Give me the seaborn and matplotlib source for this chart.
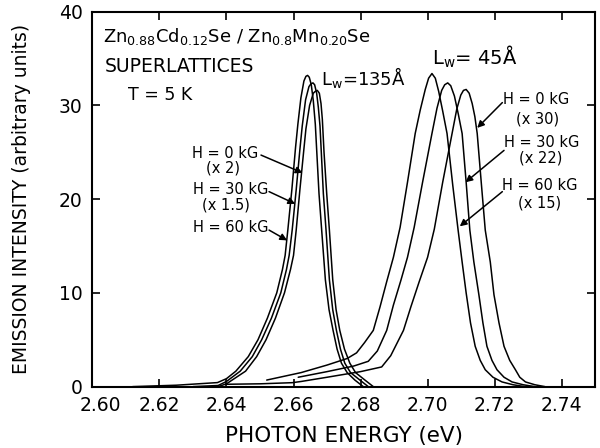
"""
Photoluminescence spectra of ZnCdSe / ZnMnSe superlattices
at T = 5 K for three magnetic fields and two well widths.
"""

import matplotlib.pyplot as plt
import matplotlib.transforms as mtransforms
import seaborn as sns

# Lw = 135 A, H = 60 kG
LW135_H60_ENERGY = [2.6120, 2.6250, 2.6373, 2.6400, 2.6428, 2.6465, 2.6494, 2.6522, 2.6550,
                    2.6567, 2.6575, 2.6583, 2.6595, 2.6606, 2.6613, 2.6622, 2.6631, 2.6637,
                    2.6642, 2.6647, 2.6653, 2.6659, 2.6665, 2.6676, 2.6684, 2.6695, 2.6706,
                    2.6718, 2.6730, 2.6743, 2.6760, 2.6783, 2.6808]
LW135_H60_INTENSITY = [0.0, 0.15, 0.43, 0.85, 1.65, 3.2, 5.0, 7.3, 10.0, 12.5, 14.0, 16.7,
                       21.0, 25.5, 28.0, 30.8, 32.6, 33.1, 33.2, 33.0, 32.2, 30.5, 28.0,
                       20.6, 16.7, 11.4, 8.2, 6.0, 4.0, 2.5, 1.5, 0.7, 0.0]

# Lw = 135 A, H = 30 kG (x1.5)
LW135_H30_ENERGY = [2.6300, 2.6375, 2.6400, 2.6441, 2.6477, 2.6505, 2.6534, 2.6562, 2.6579,
                    2.6587, 2.6596, 2.6608, 2.6619, 2.6626, 2.6636, 2.6646, 2.6652, 2.6658,
                    2.6663, 2.6669, 2.6674, 2.6679, 2.6689, 2.6697, 2.6707, 2.6717, 2.6728,
                    2.6740, 2.6753, 2.6770, 2.6798, 2.6823]
LW135_H30_INTENSITY = [0.0, 0.12, 0.55, 1.65, 3.2, 5.0, 7.3, 10.0, 12.5, 14.0, 16.7, 21.0,
                       25.3, 27.8, 30.6, 32.0, 32.3, 32.4, 32.2, 31.3, 29.8, 27.8, 20.6,
                       16.7, 11.4, 8.2, 6.0, 4.0, 2.5, 1.5, 0.7, 0.0]

# Lw = 135 A, H = 0 kG (x2)
LW135_H0_ENERGY = [2.6375, 2.6400, 2.6457, 2.6490, 2.6518, 2.6546, 2.6573, 2.6591, 2.6600,
                   2.6608, 2.6619, 2.6630, 2.6637, 2.6648, 2.6659, 2.6665, 2.6671, 2.6677,
                   2.6682, 2.6686, 2.6691, 2.6699, 2.6707, 2.6717, 2.6727, 2.6738, 2.6752,
                   2.6768, 2.6785, 2.6813, 2.6838]
LW135_H0_INTENSITY = [0.0, 0.3, 1.65, 3.2, 5.0, 7.3, 10.0, 12.5, 14.0, 16.7, 21.0, 25.0,
                      27.5, 30.0, 31.3, 31.5, 31.6, 31.3, 30.2, 28.5, 25.0, 20.6, 16.7,
                      11.4, 8.2, 6.0, 4.0, 2.5, 1.5, 0.7, 0.0]

# Lw = 45 A, H = 60 kG (x15)
LW45_H60_ENERGY = [2.6520, 2.6623, 2.6700, 2.6760, 2.6788, 2.6812, 2.6838, 2.6858, 2.6878,
                   2.6898, 2.6918, 2.6940, 2.6963, 2.6978, 2.6993, 2.7003, 2.7013, 2.7023,
                   2.7033, 2.7045, 2.7058, 2.7075, 2.7091, 2.7103, 2.7115, 2.7128, 2.7142,
                   2.7157, 2.7172, 2.7195, 2.7222, 2.7255, 2.7290]
LW45_H60_INTENSITY = [0.7, 1.5, 2.3, 3.0, 3.6, 4.7, 6.0, 8.5, 11.2, 13.8, 17.0, 21.8, 27.0,
                      29.5, 31.7, 32.9, 33.4, 32.9, 31.5, 29.4, 27.0, 21.5, 16.7, 13.3,
                      10.0, 6.8, 4.3, 2.8, 1.8, 1.0, 0.5, 0.2, 0.0]

# Lw = 45 A, H = 30 kG (x22)
LW45_H30_ENERGY = [2.6614, 2.6700, 2.6780, 2.6823, 2.6850, 2.6878, 2.6898, 2.6920, 2.6940,
                   2.6960, 2.6985, 2.7013, 2.7028, 2.7042, 2.7051, 2.7060, 2.7069, 2.7080,
                   2.7092, 2.7103, 2.7115, 2.7126, 2.7138, 2.7153, 2.7165, 2.7177, 2.7192,
                   2.7207, 2.7228, 2.7252, 2.7285, 2.7320]
LW45_H30_INTENSITY = [1.0, 1.6, 2.2, 2.7, 3.8, 6.0, 8.7, 11.3, 13.8, 17.0, 21.8, 27.0, 29.7,
                      31.6, 32.2, 32.4, 32.1, 31.0, 29.0, 27.0, 21.8, 16.7, 13.3, 9.8,
                      6.8, 4.3, 2.8, 1.8, 1.0, 0.5, 0.2, 0.0]

# Lw = 45 A, H = 0 kG (x30)
LW45_H0_ENERGY = [2.6398, 2.6500, 2.6596, 2.6623, 2.6700, 2.6800, 2.6863, 2.6890, 2.6928,
                  2.6950, 2.6975, 2.7000, 2.7020, 2.7045, 2.7073, 2.7087, 2.7099, 2.7107,
                  2.7115, 2.7124, 2.7133, 2.7141, 2.7148, 2.7160, 2.7172, 2.7187, 2.7198,
                  2.7213, 2.7228, 2.7245, 2.7262, 2.7275, 2.7292, 2.7320, 2.7350]
LW45_H0_INTENSITY = [0.25, 0.3, 0.42, 0.55, 1.0, 1.6, 2.1, 3.3, 6.0, 8.5, 11.2, 13.8, 16.8,
                     21.8, 27.0, 29.6, 31.1, 31.6, 31.7, 31.3, 30.2, 28.8, 27.0, 21.8,
                     16.7, 13.3, 9.8, 6.8, 4.3, 2.8, 1.8, 1.0, 0.5, 0.2, 0.0]

SPECTRA = [
    (LW135_H60_ENERGY, LW135_H60_INTENSITY),
    (LW135_H30_ENERGY, LW135_H30_INTENSITY),
    (LW135_H0_ENERGY, LW135_H0_INTENSITY),
    (LW45_H60_ENERGY, LW45_H60_INTENSITY),
    (LW45_H30_ENERGY, LW45_H30_INTENSITY),
    (LW45_H0_ENERGY, LW45_H0_INTENSITY),
]

X_TICKS = [2.60, 2.62, 2.64, 2.66, 2.68, 2.70, 2.72, 2.74]
Y_TICKS = [0, 10, 20, 30, 40]

# field labels: (text, x, y)
FIELD_LABELS = [
    ("H = 0 kG", 2.6395, 24.9), ("(x 2)", 2.6389, 23.3),
    ("H = 30 kG", 2.6413, 21.0), ("(x 1.5)", 2.6398, 19.4),
    ("H = 60 kG", 2.6413, 17.0),
    ("H = 0 kG", 2.7324, 30.6), ("(x 30)", 2.7327, 28.6),
    ("H = 30 kG", 2.7339, 26.0), ("(x 22)", 2.7336, 24.4),
    ("H = 60 kG", 2.7336, 21.5), ("(x 15)", 2.7333, 19.6),
]

# arrows: (start, tip)
FIELD_ARROWS = [
    ((2.6503, 24.7), (2.6627, 22.8)),
    ((2.6527, 20.8), (2.6605, 19.5)),
    ((2.6527, 16.7), (2.6581, 15.6)),
    ((2.7223, 30.3), (2.7148, 27.6)),
    ((2.7228, 25.2), (2.7113, 21.8)),
    ((2.7223, 20.8), (2.7096, 17.1)),
]


def create_spectra_plot() -> None:
    sns.set_theme(style="ticks")
    plt.rcParams["font.family"] = ["DejaVu Sans"]
    plt.rcParams["mathtext.fontset"] = "dejavusans"
    for key in ("text.color", "axes.labelcolor", "xtick.color", "ytick.color"):
        plt.rcParams[key] = "black"

    fig = plt.figure(figsize=(6, 4.48), dpi=100)
    ax = fig.add_axes([0.154, 0.137, 0.838, 0.837])

    for energy, intensity in SPECTRA:
        sns.lineplot(x=energy, y=intensity, sort=False, estimator=None,
                     color="black", linewidth=1.1, ax=ax)

    ax.set_xlim(2.60, 2.75)
    ax.set_ylim(0, 40)
    ax.set_xticks(X_TICKS)
    ax.set_xticklabels([f"{t:.2f}" for t in X_TICKS])
    ax.set_yticks(Y_TICKS)
    ax.tick_params(direction="in", length=6, width=1.2, labelsize=13.5,
                   top=True, right=True, colors="black")
    ax.tick_params(axis="x", pad=7)
    ax.tick_params(axis="y", pad=7)
    for spine in ax.spines.values():
        spine.set_linewidth(1.5)
        spine.set_color("black")

    # first energy label sits a little to the right of its tick
    first_label = ax.get_xticklabels()[0]
    first_label.set_transform(first_label.get_transform()
                              + mtransforms.ScaledTranslation(8 / 100, 0, fig.dpi_scale_trans))

    ax.set_xlabel("PHOTON ENERGY (eV)", fontsize=15.5, labelpad=8)
    ax.set_ylabel("EMISSION INTENSITY (arbitrary units)", fontsize=13.5, labelpad=20)

    ax.text(2.6032, 36.8, r"Zn$_\mathregular{0.88}$Cd$_\mathregular{0.12}$Se / "
            r"Zn$_\mathregular{0.8}$Mn$_\mathregular{0.20}$Se", fontsize=13, va="baseline")
    ax.text(2.6038, 33.6, "SUPERLATTICES", fontsize=13.5, va="baseline")
    ax.text(2.6107, 30.6, "T = 5 K", fontsize=12.5, va="baseline")
    ax.text(2.6681, 32.2, "L$_\\mathregular{w}$=135Å", fontsize=13, va="baseline")
    ax.text(2.7013, 34.3, "L$_\\mathregular{w}$= 45Å", fontsize=14, va="baseline")

    for text, x, y in FIELD_LABELS:
        ax.text(x, y, text, fontsize=10.5, ha="center", va="center")
    for start, tip in FIELD_ARROWS:
        ax.annotate("", xy=tip, xytext=start,
                    arrowprops=dict(arrowstyle="-|>", color="black", lw=1.1,
                                    mutation_scale=10, shrinkA=0, shrinkB=0))

    fig.savefig("out.png", dpi=100)


if __name__ == "__main__":
    create_spectra_plot()
